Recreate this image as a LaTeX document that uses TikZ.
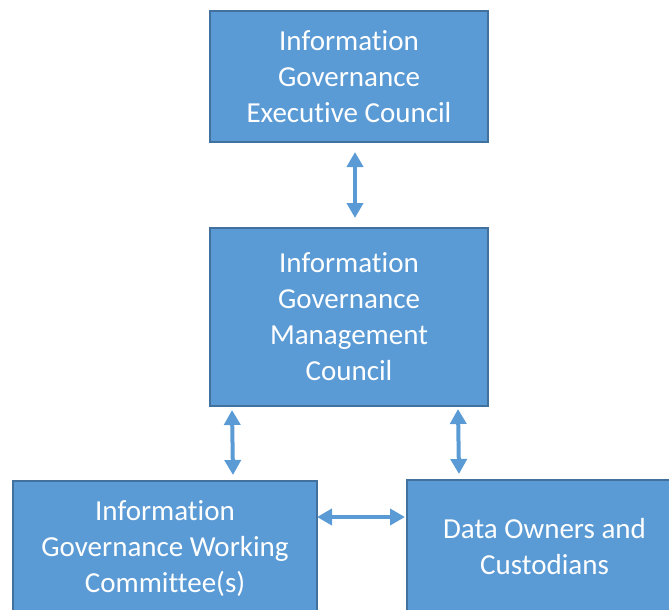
\documentclass[tikz,border=0pt]{standalone}
\usepackage{fontspec}
\setmainfont{Carlito}[Ligatures=NoCommon]
\usetikzlibrary{arrows.meta}
\definecolor{boxfill}{HTML}{5B9BD5}
\definecolor{boxedge}{HTML}{41719C}
\tikzset{
  orgbox/.style={draw=boxedge, fill=boxfill, line width=2pt, text=white,
    align=center, font=\fontsize{29}{36}\selectfont, inner sep=0pt, anchor=north west},
  link/.style={draw=boxfill, line width=4pt,
    {Triangle[length=15pt,width=16pt]}-{Triangle[length=15pt,width=16pt]}}
}
\begin{document}
\begin{tikzpicture}[x=1pt,y=-1pt]
\useasboundingbox (0,0) rectangle (669,610);
\clip (0,0) rectangle (669,610);
\node[orgbox, minimum width=278pt, minimum height=131pt] (exec) at (209,10)
  {Information\\Governance\\Executive Council};
\node[orgbox, minimum width=278pt, minimum height=178pt] (mgmt) at (209,227)
  {Information\\Governance\\Management\\Council};
\node[orgbox, minimum width=304pt, minimum height=136pt] (work) at (12,480)
  {Information\\Governance Working\\Committee(s)};
\node[orgbox, minimum width=275pt, minimum height=134pt] (data) at (406,479)
  {Data Owners and\\Custodians};
\coordinate (a1) at (355,152);
\coordinate (a2) at (355,218);
\coordinate (b1) at (232,410);
\coordinate (b2) at (233,475);
\coordinate (c1) at (458,409);
\coordinate (c2) at (459,474);
\coordinate (d1) at (317,517);
\coordinate (d2) at (405,517);
\draw[link] (a1) -- (a2);
\draw[link] (b1) -- (b2);
\draw[link] (c1) -- (c2);
\draw[link] (d1) -- (d2);
\end{tikzpicture}
\end{document}
